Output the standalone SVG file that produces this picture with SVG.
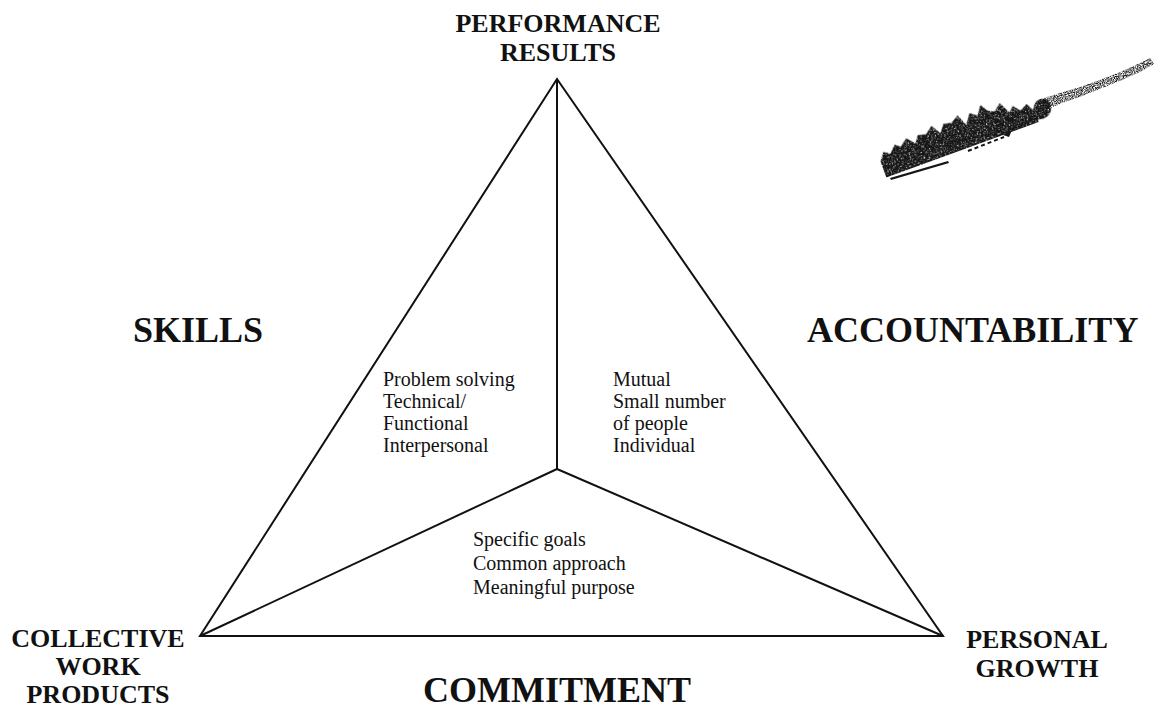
<svg xmlns="http://www.w3.org/2000/svg" width="1164" height="712" viewBox="0 0 1164 712">
  <style>
    .edge { stroke: #111; stroke-width: 2; fill: none; stroke-linejoin: miter; }
    .big { font-family: "Liberation Serif", "Times New Roman", serif; font-weight: bold; font-size: 36px; fill: #111; }
    .corner { font-family: "Liberation Serif", "Times New Roman", serif; font-weight: bold; font-size: 26px; fill: #111; text-anchor: middle; }
    .item { font-family: "Liberation Serif", "Times New Roman", serif; font-size: 20px; fill: #111; }
  </style>
  <defs>
    <!-- speckled ink for the stamp -->
    <filter id="grain" x="0" y="0" width="1" height="1">
      <feTurbulence type="fractalNoise" baseFrequency="0.9" numOctaves="2" seed="4" result="n"/>
      <feColorMatrix in="n" type="matrix" values="0 0 0 0 0  0 0 0 0 0  0 0 0 0 0  0 0 0 -2.4 1.7" result="m"/>
      <feComposite in="SourceGraphic" in2="m" operator="in"/>
    </filter>
    <filter id="worn" x="0" y="0" width="1" height="1">
      <feTurbulence type="fractalNoise" baseFrequency="0.7" numOctaves="2" seed="9" result="n"/>
      <feColorMatrix in="n" type="matrix" values="0 0 0 0 0  0 0 0 0 0  0 0 0 0 0  0 0 0 -3 2.6" result="m"/>
      <feComposite in="SourceGraphic" in2="m" operator="in"/>
    </filter>
  </defs>
  <rect width="1164" height="712" fill="#fff"/>

  <!-- triangle frame and the three spokes from the centre -->
  <g id="connectors">
    <polygon class="edge" points="557,79 200,636 943,636"/>
    <line class="edge" x1="557" y1="79" x2="557" y2="469"/>
    <line class="edge" x1="557" y1="469" x2="200" y2="636"/>
    <line class="edge" x1="557" y1="469" x2="943" y2="636"/>
  </g>

  <g id="performance-results">
    <text class="corner" x="558" y="32">PERFORMANCE</text>
    <text class="corner" x="558" y="61">RESULTS</text>
  </g>

  <g id="collective-work-products">
    <text class="corner" x="98" y="647">COLLECTIVE</text>
    <text class="corner" x="98" y="675">WORK</text>
    <text class="corner" x="98" y="703">PRODUCTS</text>
  </g>

  <g id="personal-growth">
    <text class="corner" x="1037" y="648">PERSONAL</text>
    <text class="corner" x="1037" y="677">GROWTH</text>
  </g>

  <g id="skills">
    <text class="big" x="133" y="342">SKILLS</text>
    <text class="item" x="383" y="386">Problem solving</text>
    <text class="item" x="383" y="408">Technical/</text>
    <text class="item" x="383" y="430">Functional</text>
    <text class="item" x="383" y="452">Interpersonal</text>
  </g>

  <g id="accountability">
    <text class="big" x="807" y="342">ACCOUNTABILITY</text>
    <text class="item" x="613" y="386">Mutual</text>
    <text class="item" x="613" y="408">Small number</text>
    <text class="item" x="613" y="430">of people</text>
    <text class="item" x="613" y="452">Individual</text>
  </g>

  <g id="commitment">
    <text class="big" x="557" y="702" text-anchor="middle">COMMITMENT</text>
    <text class="item" x="473" y="546">Specific goals</text>
    <text class="item" x="473" y="570">Common approach</text>
    <text class="item" x="473" y="594">Meaningful purpose</text>
  </g>

  <!-- ink stamp smudge, upper right: a tilted band of uneven blotches, then a fainter speckled trail -->
  <g id="stamp" fill="#161616">
    <g filter="url(#worn)" transform="rotate(-20 960 140)">
      <path d="M878,150 L1040,150 L1041,141 L1035,129 L1027,133 L1021,126 L1016,131 L1010,119 L1002,125 L996,122 L991,114 L985,123 L978,118 L971,128 L966,116 L958,121 L950,119 L944,127 L938,117 L930,123 L922,121 L917,128 L910,120 L902,126 L897,122 L890,129 L884,125 L878,133 Z"/>
      <path d="M1036,146 Q1040,128 1050,129 Q1060,131 1056,143 Q1050,152 1036,146 Z"/>
    </g>
    <path d="M890,178 L948,161 L949,163 L891,180 Z"/>
    <path d="M968,151 L1004,137" stroke="#161616" stroke-width="2" stroke-dasharray="4 3" fill="none"/>
    <path d="M1003,135 L1012,130 L1009,137 Z"/>
    <path filter="url(#grain)" d="M1044,98 L1060,93 L1080,87 L1100,80 L1120,72 L1138,64 L1150,58 L1154,64 L1140,72 L1122,80 L1102,88 L1082,96 L1062,103 L1046,110 Z"/>
  </g>
</svg>
